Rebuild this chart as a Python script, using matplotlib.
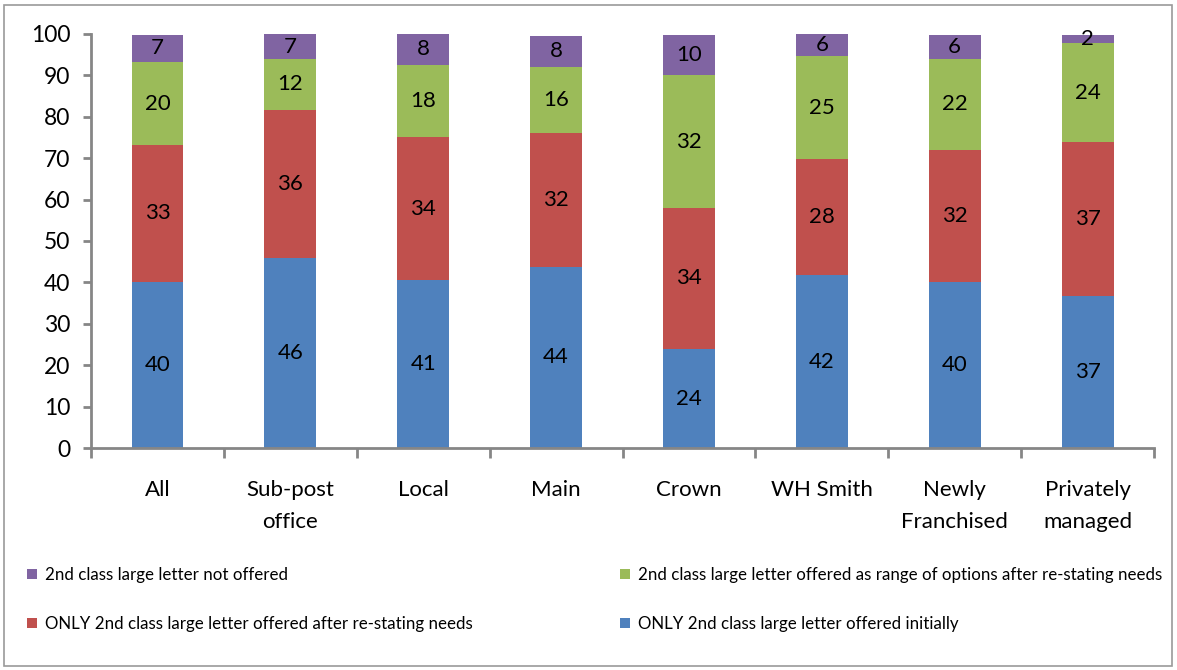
import matplotlib
matplotlib.use("Agg")
import matplotlib.pyplot as plt
from matplotlib.patches import Patch, Rectangle
import numpy as np

plt.rcParams["font.family"] = ["Lato", "DejaVu Sans"]

categories = ["All", "Sub-post\noffice", "Local", "Main", "Crown",
              "WH Smith", "Newly\nFranchised", "Privately\nmanaged"]

# segment heights (%), bottom to top
initially = [40.1, 45.9, 40.6, 43.8, 23.9, 41.7, 40.0, 36.7]
after_restating = [33.1, 35.8, 34.4, 32.2, 34.1, 28.1, 32.0, 37.2]
range_of_options = [20.0, 12.2, 17.6, 16.0, 32.0, 24.8, 22.0, 23.9]
not_offered = [6.6, 6.6, 7.6, 7.6, 9.8, 5.6, 5.8, 2.0]

series = [
    ("ONLY 2nd class large letter offered initially", initially, "#4F81BD"),
    ("ONLY 2nd class large letter offered after re-stating needs", after_restating, "#C0504D"),
    ("2nd class large letter offered as range of options after re-stating needs", range_of_options, "#9BBB59"),
    ("2nd class large letter not offered", not_offered, "#8064A2"),
]

AX_GREY = "#868686"

fig = plt.figure(figsize=(11.77, 6.70), dpi=100)
ax = fig.add_axes([0.0773, 0.3313, 0.9032, 0.618])

x = np.arange(len(categories))
bottom = np.zeros(len(categories))
handles = {}
for name, vals, col in series:
    vals = np.array(vals)
    bars = ax.bar(x, vals, width=0.39, bottom=bottom, color=col, zorder=2)
    ax.bar_label(bars, labels=[f"{v:.0f}" for v in vals], label_type="center",
                 fontsize=16, color="black")
    handles[name] = Patch(facecolor=col)
    bottom += vals

ax.set_xlim(-0.5, len(categories) - 0.5)
ax.set_ylim(0, 100)
ax.set_yticks(range(0, 101, 10))
ax.tick_params(axis="y", labelsize=16.5, length=6, width=2, color=AX_GREY, pad=9)

# category labels centred on bars, tick marks between categories
ax.set_xticks(x)
ax.set_xticklabels(categories, fontsize=16, linespacing=1.75)
ax.tick_params(axis="x", which="major", length=0, pad=23)
ax.set_xticks(np.arange(-0.5, len(categories)), minor=True)
ax.tick_params(axis="x", which="minor", length=7, width=2, color=AX_GREY)

for s in ("top", "right"):
    ax.spines[s].set_visible(False)
for s in ("left", "bottom"):
    ax.spines[s].set_color(AX_GREY)
    ax.spines[s].set_linewidth(2)

# legend: two separate columns to match the wide spacing
names = [s[0] for s in series]
leg_kw = dict(fontsize=12.2, frameon=False, handlelength=0.6, handleheight=0.6,
              handletextpad=0.45, labelspacing=1.95, borderaxespad=0, borderpad=0)
fig.legend([handles[names[3]], handles[names[1]]], [names[3], names[1]],
           loc="upper left", bbox_to_anchor=(27 / 1177, 1 - 567 / 670), **leg_kw)
fig.legend([handles[names[2]], handles[names[0]]], [names[2], names[0]],
           loc="upper left", bbox_to_anchor=(620 / 1177, 1 - 567 / 670), **leg_kw)

# outer chart border
fig.patches.append(Rectangle((4 / 1177, 4 / 670), 1 - 9 / 1177, 1 - 9 / 670,
                             transform=fig.transFigure, fill=False,
                             edgecolor="#9a9a9a", linewidth=1.2))

fig.savefig("out.png", dpi=100)
